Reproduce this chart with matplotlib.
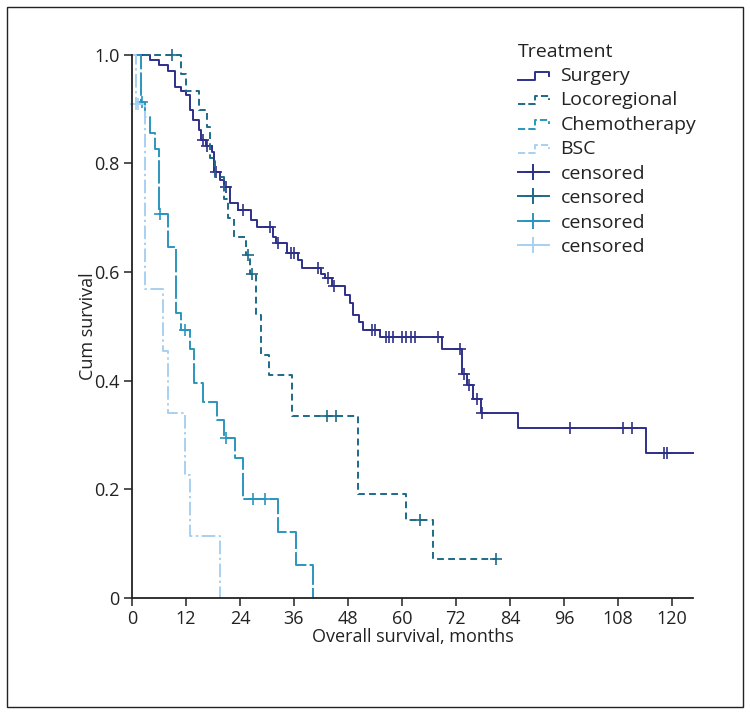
import numpy as np
import matplotlib
matplotlib.use("Agg")
import matplotlib.pyplot as plt
from matplotlib.lines import Line2D
from matplotlib.patches import Rectangle
from matplotlib.legend_handler import HandlerBase

plt.rcParams['font.family'] = ['Open Sans', 'DejaVu Sans']
FS = 13
LEG_FS = 14

# Kaplan-Meier steps: (time of drop, survival after drop)
surgery_t = [4.0, 6.1, 7.9, 9.6, 10.9, 12.1, 12.9, 13.6, 14.9, 15.4, 16.4, 17.7,
             18.2, 19.6, 20.4, 21.8, 23.6, 26.4, 27.7, 31.4, 32.1, 34.4, 36.8,
             37.8, 42.1, 42.9, 44.4, 47.3, 48.4, 49.2, 50.5, 51.3, 55.1, 68.8,
             73.3, 74.5, 75.8, 77.5, 85.7, 114.2]
surgery_s = [0.989, 0.981, 0.970, 0.941, 0.933, 0.925, 0.898, 0.879, 0.861, 0.843,
             0.832, 0.821, 0.784, 0.769, 0.757, 0.726, 0.714, 0.695, 0.683, 0.665,
             0.653, 0.635, 0.622, 0.608, 0.597, 0.588, 0.574, 0.557, 0.542, 0.521,
             0.507, 0.493, 0.481, 0.459, 0.413, 0.392, 0.367, 0.341, 0.312, 0.267]
surgery_cens = [15.7, 16.6, 18.6, 20.9, 24.6, 30.7, 32.5, 35.3, 36.0, 41.4, 43.6,
                44.8, 53.3, 54.0, 56.4, 57.2, 58.1, 60.1, 61.0, 62.0, 62.9, 68.1,
                72.9, 73.7, 75.0, 76.7, 77.8, 97.3, 109.2, 111.2, 118.2, 119.0]
surgery_end = 124.7

loco_t = [10.9, 11.9, 14.9, 16.7, 17.4, 18.5, 20.4, 21.4, 22.7, 25.4, 26.3,
          27.6, 28.6, 30.4, 35.5, 50.3, 61.0, 67.0]
loco_s = [0.965, 0.932, 0.898, 0.866, 0.810, 0.774, 0.735, 0.699, 0.665, 0.631,
          0.597, 0.520, 0.447, 0.410, 0.335, 0.191, 0.144, 0.072]
loco_cens = [9.0, 25.8, 26.7, 43.3, 45.3, 64.0, 80.9]
loco_end = 80.9

chemo_t = [1.9, 2.9, 4.0, 5.1, 5.9, 8.1, 9.8, 10.8, 12.9, 13.8, 15.7, 18.8,
           20.5, 22.9, 24.7, 32.5, 36.4, 40.3]
chemo_s = [0.913, 0.885, 0.856, 0.827, 0.707, 0.646, 0.524, 0.493, 0.459, 0.395,
           0.361, 0.327, 0.294, 0.257, 0.183, 0.122, 0.061, 0.0]
chemo_cens = [2.3, 6.3, 11.8, 20.9, 26.8, 29.6]
chemo_end = 40.3

bsc_t = [0.8, 2.9, 7.0, 8.1, 11.8, 12.9, 19.6]
bsc_s = [0.909, 0.568, 0.454, 0.341, 0.227, 0.114, 0.0]
bsc_cens = [1.0, 1.3]
bsc_end = 19.6

groups = ['Surgery', 'Locoregional', 'Chemotherapy', 'BSC']
colors = ['#2d3088', '#1d6a88', '#2b96bd', '#a8d0f0']
styles = ['-', (0, (3.5, 2.2)), (0, (12, 1.6)), (0, (7, 1.8, 1.2, 1.8))]

series = [
    (surgery_t, surgery_s, surgery_cens, surgery_end),
    (loco_t, loco_s, loco_cens, loco_end),
    (chemo_t, chemo_s, chemo_cens, chemo_end),
    (bsc_t, bsc_s, bsc_cens, bsc_end),
]


class StepHandler(HandlerBase):
    # legend handle drawn as a small step, like SPSS does
    def create_artists(self, legend, orig_handle, xdescent, ydescent,
                       width, height, fontsize, trans):
        x0, y0 = -xdescent, -ydescent
        xs = x0 + width * np.array([0.0, 0.55, 0.55, 1.0, 1.0])
        ys = y0 + height * np.array([0.1, 0.1, 0.7, 0.7, 0.4])
        ln = Line2D(xs, ys, color=orig_handle.get_color(),
                    linestyle=orig_handle.get_linestyle(),
                    linewidth=orig_handle.get_linewidth())
        ln.set_transform(trans)
        return [ln]


fig = plt.figure(figsize=(7.5, 7.14), dpi=100)
ax = fig.add_axes([132 / 750, 1 - 598 / 714, (693 - 132) / 750, (598 - 54.5) / 714])

for (t, s, cens, end), c, ls in zip(series, colors, styles):
    x = np.concatenate([[0.0], t, [end]])
    y = np.concatenate([[1.0], s, [s[-1]]])
    ax.step(x, y, where='post', color=c, lw=1.4, linestyle=ls, clip_on=False)
    idx = np.searchsorted(x, cens, side='right') - 1
    ax.plot(cens, y[idx], linestyle='none', marker='+', ms=9, mew=1.2,
            color=c, clip_on=False)

ax.set_xlim(0, 124.7)
ax.set_ylim(0, 1.0)
ax.set_xticks(np.arange(0, 121, 12))
ax.set_yticks([0, 0.2, 0.4, 0.6, 0.8, 1.0])
ax.set_yticklabels(['0', '0.2', '0.4', '0.6', '0.8', '1.0'])
for sp in ['top', 'right']:
    ax.spines[sp].set_visible(False)
for sp in ['left', 'bottom']:
    ax.spines[sp].set_linewidth(1.3)
    ax.spines[sp].set_color('#222222')
ax.tick_params(length=6, width=1.1, color='#222222', labelsize=FS,
               labelcolor='#222222', pad=3)
ax.set_xlabel('Overall survival, months', fontsize=FS, color='#222222', labelpad=0)
ax.set_ylabel('Cum survival', fontsize=FS, color='#222222', labelpad=-2)

handles = [Line2D([], [], color=c, linestyle=ls, lw=1.4) for c, ls in zip(colors, styles)]
cens_handles = [Line2D([], [], color=c, lw=1.4, marker='+', ms=12, mew=1.4) for c in colors]
leg = ax.legend(handles + cens_handles, groups + ['censored'] * 4,
                title='Treatment', loc='upper left',
                bbox_to_anchor=(506 / 750, 1 - 31 / 714), bbox_transform=fig.transFigure,
                frameon=False, fontsize=LEG_FS, title_fontsize=LEG_FS,
                handlelength=1.6, handletextpad=0.6, labelspacing=0.33,
                borderpad=0.1, alignment='left', numpoints=1,
                handler_map={h: StepHandler() for h in handles})
for txt in leg.get_texts():
    txt.set_color('#222222')
leg.get_title().set_color('#222222')

fig.patches.append(Rectangle((7 / 750, 7 / 714), 736 / 750, 700 / 714,
                             transform=fig.transFigure, fill=False,
                             ec='#222222', lw=1.0))

fig.savefig('out.png', dpi=100)
